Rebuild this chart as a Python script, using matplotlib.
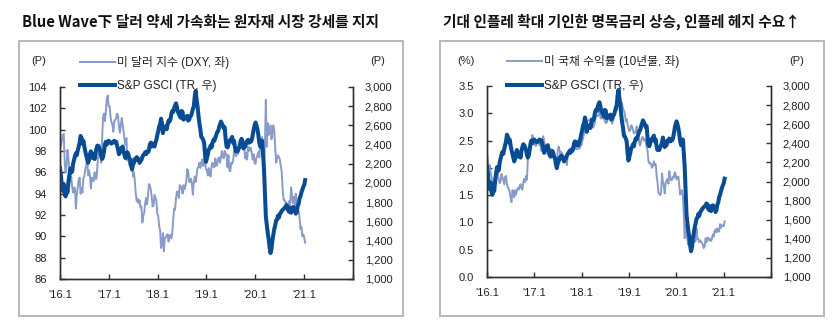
import numpy as np
import pandas as pd
import matplotlib
matplotlib.use('Agg')
import matplotlib.pyplot as plt
from matplotlib.patches import Rectangle
from matplotlib.ticker import FuncFormatter

plt.rcParams['font.family'] = ['Liberation Sans', 'Noto Sans CJK KR', 'DejaVu Sans']

# weekly (Friday) points, 2016-01-01 .. 2021-01-08
dates = pd.date_range('2016-01-01', '2021-01-08', freq='W-FRI')

# US dollar index (DXY), one row per month
dxy_2016 = [98.7, 98.5, 99.0, 99.5, 99.6,
            97.0, 96.0, 96.6, 98.1,
            97.3, 96.2, 95.1, 95.6,
            94.6, 94.1, 94.6, 94.5, 92.6,
            93.9, 94.6, 95.3, 95.5,
            94.0, 94.5, 94.1, 95.5,
            95.6, 96.3, 96.6, 97.4, 95.7,
            96.2, 95.7, 94.5, 95.5,
            95.2, 95.2, 96.0, 95.4, 95.4,
            96.6, 98.0, 98.6, 98.4,
            96.9, 99.0, 101.2, 101.5,
            100.8, 101.7, 102.9, 103.2, 102.2]
dxy_2017 = [102.2, 101.2, 100.7, 100.5,
            99.8, 100.8, 100.9, 101.1,
            101.5, 101.3, 100.3, 99.7, 100.4,
            101.1, 100.5, 99.8, 99.0,
            98.6, 99.2, 97.1, 97.4,
            96.7, 97.2, 97.2, 97.3, 95.6,
            96.0, 95.2, 94.0, 93.3,
            93.5, 93.1, 93.4, 92.7,
            92.8, 91.3, 91.9, 92.2, 93.1,
            93.6, 93.0, 93.7, 94.9,
            94.8, 94.4, 93.7, 92.8,
            92.9, 93.9, 93.6, 93.3, 92.1]
dxy_2018 = [91.9, 90.9, 90.6, 88.9,
            89.2, 90.3, 88.6, 89.8,
            89.9, 90.1, 90.2, 89.5, 90.1,
            90.1, 89.8, 90.3, 91.6,
            92.6, 92.5, 93.6, 94.2,
            94.2, 93.6, 94.8, 94.5, 94.6,
            94.0, 94.8, 94.4, 94.7,
            95.2, 96.3, 96.1, 95.1, 95.1,
            95.4, 94.9, 93.9, 95.1,
            95.6, 95.1, 95.7, 96.4,
            96.5, 96.9, 96.4, 96.9, 97.2,
            96.6, 97.5, 96.9, 96.3]
dxy_2019 = [96.2, 95.7, 96.4, 95.8,
            95.6, 96.6, 96.9, 96.5,
            96.5, 97.3, 96.6, 96.7, 97.3,
            97.4, 96.9, 97.4, 98.0,
            97.5, 97.3, 98.0, 97.6, 97.7,
            96.5, 97.6, 96.2, 96.1,
            96.9, 96.8, 97.1, 98.0,
            98.1, 97.5, 98.1, 97.7, 98.9,
            98.4, 98.3, 98.5, 99.1,
            98.8, 98.3, 97.3, 97.8,
            97.2, 98.4, 98.0, 98.3, 98.3,
            97.7, 97.2, 97.7, 96.9]
dxy_2020 = [96.8, 97.4, 97.6, 97.9, 97.4,
            98.7, 99.1, 99.3, 98.1,
            96.0, 98.7, 102.8, 98.4,
            100.6, 99.5, 99.8, 100.4,
            99.1, 99.7, 100.4, 99.9, 98.4,
            96.9, 97.3, 97.6, 97.4,
            97.2, 96.6, 96.0, 94.4, 93.4,
            93.4, 93.1, 93.2, 92.4,
            92.8, 93.3, 92.9, 94.6,
            93.8, 93.1, 93.7, 92.8, 94.0,
            92.2, 92.8, 92.4, 91.8,
            90.7, 90.9, 90.0, 90.2]
dxy_2021 = [89.9, 89.4]

# S&P GSCI total return index
gsci_2016 = [2150, 2080, 1960, 1920, 1990,
             1890, 1860, 1930, 1900,
             2010, 2080, 2150, 2110,
             2120, 2200, 2240, 2280, 2310,
             2290, 2340, 2380, 2420,
             2490, 2470, 2410, 2440,
             2380, 2330, 2290, 2250, 2210,
             2240, 2300, 2330, 2280,
             2260, 2300, 2250, 2320, 2360,
             2390, 2380, 2360, 2330,
             2280, 2250, 2270, 2330,
             2400, 2430, 2400, 2420, 2440]
gsci_2017 = [2430, 2420, 2410, 2420,
             2430, 2440, 2420, 2430,
             2390, 2350, 2300, 2320, 2350,
             2370, 2380, 2320, 2290,
             2260, 2300, 2320, 2300,
             2260, 2240, 2180, 2140, 2190,
             2210, 2250, 2240, 2270,
             2260, 2240, 2210, 2230,
             2240, 2270, 2290, 2300, 2320,
             2300, 2330, 2320, 2340,
             2400, 2420, 2380, 2410,
             2390, 2380, 2420, 2450, 2500]
gsci_2018 = [2540, 2590, 2610, 2670,
             2620, 2520, 2570, 2580,
             2590, 2560, 2610, 2650, 2640,
             2660, 2720, 2750, 2740,
             2780, 2810, 2830, 2790,
             2740, 2720, 2700, 2680, 2750,
             2740, 2660, 2670, 2680,
             2690, 2700, 2650, 2660, 2690,
             2700, 2730, 2770, 2800,
             2900, 2960, 2870, 2800,
             2700, 2620, 2560, 2480, 2470,
             2450, 2420, 2300, 2220]
gsci_2019 = [2260, 2300, 2350, 2360,
             2390, 2370, 2420, 2450,
             2440, 2470, 2500, 2530, 2540,
             2580, 2610, 2640, 2620,
             2600, 2570, 2580, 2460, 2380,
             2370, 2400, 2440, 2450,
             2460, 2480, 2420, 2440,
             2370, 2330, 2350, 2330, 2360,
             2380, 2410, 2460, 2400,
             2360, 2390, 2380, 2430,
             2420, 2450, 2420, 2440, 2430,
             2450, 2500, 2560, 2600]
gsci_2020 = [2630, 2600, 2560, 2500, 2420,
             2380, 2430, 2440, 2300,
             2150, 1900, 1650, 1560,
             1480, 1420, 1330, 1270,
             1310, 1400, 1460, 1520, 1560,
             1610, 1620, 1660, 1640,
             1680, 1690, 1710, 1720, 1730,
             1740, 1750, 1770, 1760,
             1710, 1700, 1740, 1690,
             1720, 1750, 1740, 1720, 1680,
             1700, 1760, 1780, 1840,
             1860, 1900, 1930, 1960]
gsci_2021 = [1980, 2030]

# US 10-year treasury yield (%)
ust_2016 = [2.27, 2.13, 2.03, 2.05, 1.92,
            1.84, 1.74, 1.76, 1.76,
            1.88, 1.98, 1.88, 1.90,
            1.77, 1.72, 1.75, 1.89, 1.83,
            1.78, 1.70, 1.84, 1.85,
            1.70, 1.64, 1.62, 1.56,
            1.45, 1.37, 1.59, 1.57, 1.46,
            1.59, 1.51, 1.58, 1.63,
            1.60, 1.67, 1.70, 1.62, 1.60,
            1.73, 1.80, 1.74, 1.85,
            1.78, 2.15, 2.35, 2.36,
            2.39, 2.47, 2.60, 2.54, 2.45]
ust_2017 = [2.42, 2.40, 2.47, 2.49,
            2.49, 2.41, 2.42, 2.31,
            2.49, 2.58, 2.50, 2.41, 2.40,
            2.38, 2.24, 2.24, 2.29,
            2.35, 2.33, 2.23, 2.25,
            2.16, 2.20, 2.16, 2.14, 2.30,
            2.39, 2.33, 2.24, 2.29,
            2.27, 2.19, 2.19, 2.17,
            2.16, 2.05, 2.20, 2.25, 2.33,
            2.36, 2.27, 2.38, 2.42,
            2.34, 2.40, 2.35, 2.34,
            2.37, 2.38, 2.35, 2.48, 2.41]
ust_2018 = [2.48, 2.55, 2.64, 2.66,
            2.84, 2.85, 2.87, 2.87,
            2.86, 2.90, 2.85, 2.82, 2.74,
            2.77, 2.83, 2.96, 2.96,
            2.95, 2.97, 3.06, 2.93,
            2.90, 2.94, 2.92, 2.89, 2.85,
            2.82, 2.83, 2.89, 2.96,
            2.95, 2.87, 2.87, 2.81, 2.86,
            2.94, 2.99, 3.07, 3.05,
            3.23, 3.16, 3.19, 3.08,
            3.21, 3.18, 3.08, 3.05, 2.99,
            2.85, 2.89, 2.79, 2.72]
ust_2019 = [2.67, 2.70, 2.78, 2.76,
            2.69, 2.63, 2.66, 2.65,
            2.76, 2.63, 2.59, 2.44, 2.41,
            2.50, 2.56, 2.56, 2.50,
            2.53, 2.47, 2.39, 2.32, 2.13,
            2.08, 2.09, 2.06, 2.00,
            2.04, 2.12, 2.05, 2.07,
            1.86, 1.74, 1.55, 1.52, 1.50,
            1.56, 1.90, 1.74, 1.68,
            1.53, 1.73, 1.76, 1.80,
            1.71, 1.94, 1.83, 1.77, 1.78,
            1.84, 1.82, 1.92, 1.88]
ust_2020 = [1.79, 1.82, 1.84, 1.68, 1.51,
            1.58, 1.59, 1.47, 1.13,
            0.71, 0.96, 0.92, 0.68,
            0.59, 0.73, 0.65, 0.60,
            0.64, 0.68, 0.64, 0.66, 0.65,
            0.89, 0.70, 0.70, 0.64,
            0.67, 0.64, 0.63, 0.59, 0.53,
            0.56, 0.71, 0.64, 0.72,
            0.72, 0.67, 0.70, 0.66,
            0.70, 0.78, 0.74, 0.84, 0.87,
            0.82, 0.89, 0.83, 0.84,
            0.97, 0.90, 0.95, 0.94]
ust_2021 = [0.93, 1.02]

dxy = dxy_2016 + dxy_2017 + dxy_2018 + dxy_2019 + dxy_2020 + dxy_2021
gsci = gsci_2016 + gsci_2017 + gsci_2018 + gsci_2019 + gsci_2020 + gsci_2021
ust10 = ust_2016 + ust_2017 + ust_2018 + ust_2019 + ust_2020 + ust_2021

year_ticks = pd.to_datetime(['2016-01-01', '2017-01-01', '2018-01-01', '2019-01-01',
                             '2020-01-01', '2021-01-01', '2022-01-01'])
year_labels = ["'16.1", "'17.1", "'18.1", "'19.1", "'20.1", "'21.1", ""]

titles = ['Blue Wave下 달러 약세 가속화는 원자재 시장 강세를 지지',
          '기대 인플레 확대 기인한 명목금리 상승, 인플레 헤지 수요↑']
left_labels = ['미 달러 지수 (DXY, 좌)', '미 국채 수익률 (10년물, 좌)']
gsci_label = 'S&P GSCI (TR, 우)'

DARK = '#0a4c93'
LIGHT = '#889bc9'
AXC = '#303030'

fig = plt.figure(figsize=(8.39, 3.34), dpi=100)
W, H = 839, 334


def fx(px):
    return px / W


def fy(py):
    return 1 - py / H


def style(ax):
    ax.spines['top'].set_visible(False)
    for s in ['left', 'right', 'bottom']:
        ax.spines[s].set_color(AXC)
        ax.spines[s].set_linewidth(1.0)
    ax.tick_params(axis='both', direction='in', length=3.5, width=1.0, color=AXC,
                   labelsize=8, labelcolor='#222222')


def panel(rect, left_vals, left_lim, left_ticks, left_fmt, llabel, unit_left,
          box, legend_anchor, unit_pos):
    ax = fig.add_axes(rect)
    ax2 = ax.twinx()
    l1, = ax.plot(dates, left_vals, color=LIGHT, lw=1.4)
    l2, = ax2.plot(dates, gsci, color=DARK, lw=2.9)

    ax.set_xlim(pd.Timestamp('2016-01-01'), pd.Timestamp('2022-01-01'))
    ax.set_ylim(*left_lim)
    ax.set_yticks(left_ticks)
    ax.yaxis.set_major_formatter(FuncFormatter(left_fmt))
    ax2.set_ylim(1000, 3000)
    ax2.set_yticks(np.arange(1000, 3001, 200))
    ax2.yaxis.set_major_formatter(FuncFormatter(lambda v, p: f'{int(v):,}'))
    ax.set_xticks(year_ticks)
    ax.set_xticklabels(year_labels)

    style(ax)
    style(ax2)
    ax.tick_params(axis='y', pad=9.5)
    ax.tick_params(axis='x', pad=8)
    ax2.tick_params(axis='y', pad=8.5)

    leg = ax2.legend([l1, l2], [llabel, gsci_label], loc='upper left',
                     bbox_to_anchor=legend_anchor, frameon=False, fontsize=8.5,
                     handlelength=3.0, handletextpad=0.15, labelspacing=0.95,
                     borderpad=0, borderaxespad=0)
    for t in leg.get_texts():
        t.set_color('#222222')

    fig.text(fx(unit_pos[0]), fy(unit_pos[2]), unit_left, fontsize=8,
             ha='center', va='center', color='#222222')
    fig.text(fx(unit_pos[1]), fy(unit_pos[2]), '(P)', fontsize=8,
             ha='center', va='center', color='#222222')

    fig.patches.append(Rectangle((fx(box[0]), fy(box[3])), fx(box[2] - box[0]),
                                 fy(box[1]) - fy(box[3]), transform=fig.transFigure,
                                 fill=False, edgecolor='#b8b8b8', lw=1.4))
    return ax


# left panel: dollar index vs GSCI
panel([fx(60), fy(279), fx(353 - 60), fy(87) - fy(279)],
      dxy, (86, 104), np.arange(86, 105, 2), lambda v, p: f'{int(v)}',
      left_labels[0], '(P)', (19, 41, 403, 316), (20 / 293, 1.16),
      (39, 378, 61))

# right panel: 10y yield vs GSCI
panel([fx(487), fy(277), fx(771 - 487), fy(86) - fy(277)],
      ust10, (0, 3.5), np.arange(0, 3.51, 0.5), lambda v, p: f'{v:.1f}',
      left_labels[1], '(%)', (440, 41, 824, 316), (20 / 284, 1.16),
      (466, 797, 61))

for x0, title in zip([22, 443], titles):
    fig.text(fx(x0), fy(22), title, fontsize=10.6, fontweight='bold',
             family=['Noto Sans CJK KR', 'DejaVu Sans'], ha='left', va='center',
             color='#111111')

fig.savefig('out.png', dpi=100)
